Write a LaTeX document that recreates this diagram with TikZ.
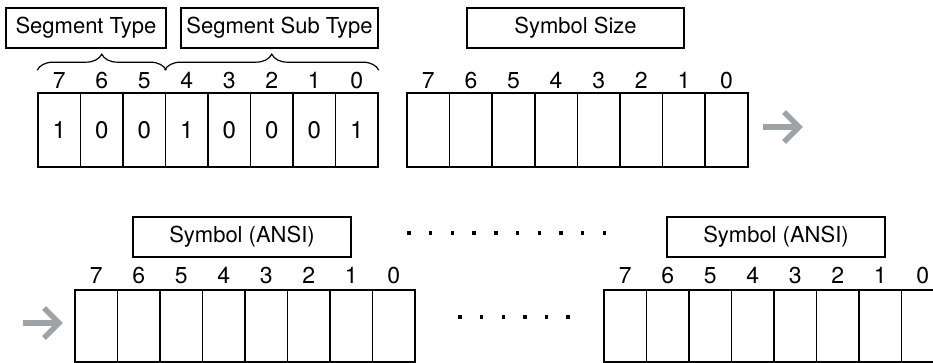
\documentclass[tikz,border=0pt]{standalone}
\usepackage{fontspec}
\setmainfont{TeX Gyre Heros}
\usetikzlibrary{positioning,calc,decorations.pathreplacing}

\definecolor{arrowgray}{RGB}{158,163,168}

\begin{document}
\begin{tikzpicture}[x=1pt, y=-1pt,
  labelbox/.style={draw, line width=1.3pt, inner sep=0pt, minimum height=40pt,
    font=\fontsize{22}{26}\selectfont},
  cell/.style={draw, line width=1.6pt, inner sep=0pt, minimum width=42.5pt,
    minimum height=74pt, font=\fontsize{24}{28}\selectfont},
  bitnum/.style={anchor=base, inner sep=0pt, font=\fontsize{23}{27}\selectfont},
  fatarrow/.style={line width=5.5pt, draw=arrowgray},
  dot/.style={fill=black}]

\useasboundingbox (0,0) rectangle (933,363);

% Field names
\node[labelbox, minimum width=160pt] (segtype) at (86,28) {Segment Type};
\node[labelbox, minimum width=197pt] (subtype) at (279.5,28) {Segment Sub Type};
\node[labelbox, minimum width=217pt] (symsize) at (575.5,28) {Symbol Size};
\node[labelbox, minimum width=218pt] (ansiA) at (242,237) {Symbol (ANSI)};
\node[labelbox, minimum width=218pt] (ansiB) at (776,237) {Symbol (ANSI)};

% First byte: segment type and sub type
\foreach \i/\v in {0/1,1/0,2/0,3/1,4/0,5/0,6/0,7/1} {
  \node[cell] (a\i) at (59.25+42.5*\i,130) {\v};
  \pgfmathtruncatemacro\b{7-\i}
  \node[bitnum] (na\i) at ($(a\i.north)+(0,-4)$) {\b};
}

% Braces over the bit groups
\draw[decorate, decoration={brace, amplitude=16pt}, line width=1.2pt]
  ($(a0.north west)+(0,-22)$) -- ($(a2.north east)+(0,-22)$);
\draw[decorate, decoration={brace, amplitude=16pt}, line width=1.2pt]
  ($(a3.north west)+(0,-22)$) -- ($(a7.north east)+(0,-22)$);

% Second byte: symbol size
\foreach \i in {0,...,7} {
  \node[cell, minimum width=42.6pt] (b\i) at (428.3+42.6*\i,130) {};
  \pgfmathtruncatemacro\b{7-\i}
  \node[bitnum] (nb\i) at ($(b\i.north)+(0,-4)$) {\b};
}

% Symbol bytes
\foreach \i in {0,...,7} {
  \node[cell, minimum height=72pt] (c\i) at (96.25+42.5*\i,326) {};
  \pgfmathtruncatemacro\b{7-\i}
  \node[bitnum] (nc\i) at ($(c\i.north)+(0,-5.5)$) {\b};
  \node[cell, minimum height=72pt] (d\i) at (625.25+42.5*\i,326) {};
  \node[bitnum] (nd\i) at ($(d\i.north)+(0,-5.5)$) {\b};
}

% Continuation arrows
\coordinate (arrA) at (763,127);
\draw[fatarrow] (arrA) -- ++(33,0);
\draw[fatarrow, line join=miter] ($(arrA)+(21,-15)$) -- ++(15,15) -- ++(-15,15);
\coordinate (arrB) at (23,323);
\draw[fatarrow] (arrB) -- ++(33,0);
\draw[fatarrow, line join=miter] ($(arrB)+(21,-15)$) -- ++(15,15) -- ++(-15,15);

% Dots
\foreach \k in {0,...,9}
  \fill[dot] (409+21.7*\k,233) +(-1.7,-1.7) rectangle +(1.7,1.7);
\foreach \k in {0,...,5}
  \fill[dot] (460+21.6*\k,317) +(-1.7,-1.7) rectangle +(1.7,1.7);

\end{tikzpicture}
\end{document}
